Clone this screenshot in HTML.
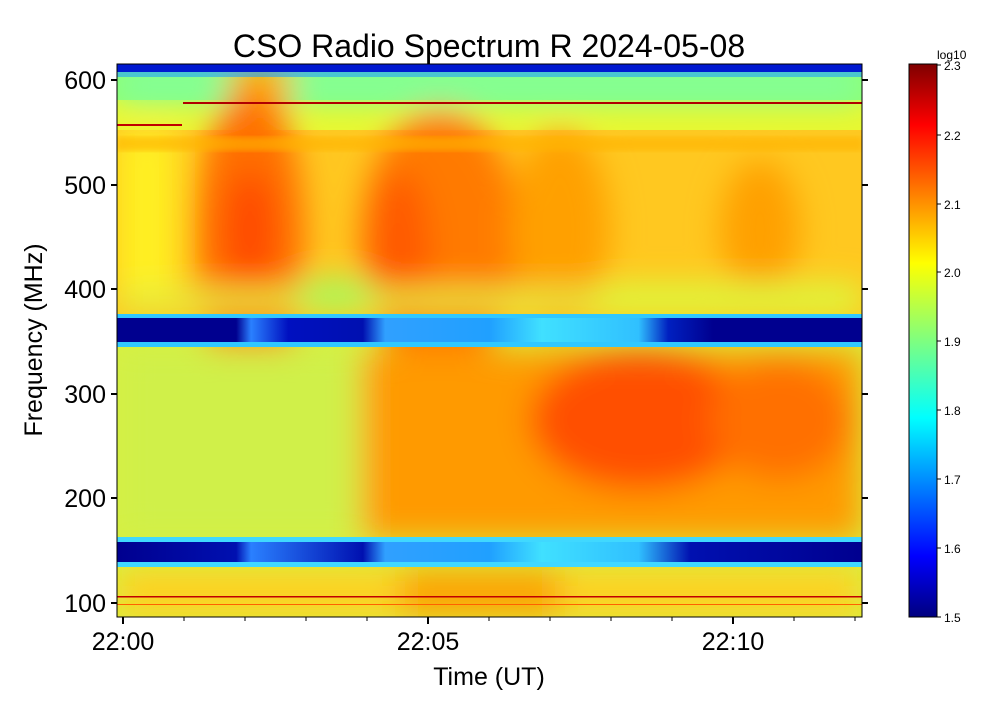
<!DOCTYPE html>
<html><head><style>
body{margin:0;background:#fff;width:1008px;height:696px;overflow:hidden;font-family:"Liberation Sans",sans-serif}
</style></head><body>
<svg width="1008" height="696" viewBox="0 0 1008 696" xmlns="http://www.w3.org/2000/svg" font-family="Liberation Sans, sans-serif">
<defs>
<clipPath id="c"><rect x="117" y="64" width="745" height="553"/></clipPath>
<filter id="b" x="-20%" y="-20%" width="140%" height="140%"><feGaussianBlur stdDeviation="16"/></filter>
<filter id="b2"><feGaussianBlur stdDeviation="3"/></filter>
<linearGradient id="jet" x1="0" y1="1" x2="0" y2="0">
<stop offset="0" stop-color="#00007f"/><stop offset="0.11" stop-color="#0000ff"/>
<stop offset="0.36" stop-color="#00ffff"/><stop offset="0.5" stop-color="#7fff7f"/>
<stop offset="0.64" stop-color="#ffff00"/><stop offset="0.89" stop-color="#ff0000"/>
<stop offset="1" stop-color="#7f0000"/></linearGradient>
<linearGradient id="blueband" x1="0" y1="0" x2="1" y2="0">
<stop offset="0" stop-color="#00008f"/><stop offset="0.16" stop-color="#00008f"/>
<stop offset="0.18" stop-color="#2a80ff"/><stop offset="0.23" stop-color="#0010c0"/>
<stop offset="0.33" stop-color="#0010b0"/><stop offset="0.36" stop-color="#30a0ff"/>
<stop offset="0.5" stop-color="#20a0ff"/><stop offset="0.57" stop-color="#40e0ff"/>
<stop offset="0.7" stop-color="#30c0ff"/><stop offset="0.74" stop-color="#0020c0"/>
<stop offset="0.8" stop-color="#00008f"/><stop offset="1" stop-color="#00008f"/></linearGradient>
<linearGradient id="blueband2" x1="0" y1="0" x2="1" y2="0">
<stop offset="0" stop-color="#00008f"/><stop offset="0.16" stop-color="#0010b0"/>
<stop offset="0.18" stop-color="#2a80ff"/><stop offset="0.33" stop-color="#0010b0"/>
<stop offset="0.36" stop-color="#30a0ff"/><stop offset="0.5" stop-color="#20a0ff"/>
<stop offset="0.57" stop-color="#40e0ff"/><stop offset="0.7" stop-color="#30c0ff"/>
<stop offset="0.77" stop-color="#0010b0"/><stop offset="1" stop-color="#00008f"/></linearGradient>
</defs>
<g clip-path="url(#c)">
<rect x="117" y="64" width="745" height="553" fill="#d8f040"/>
<rect x="117" y="64" width="745" height="50" fill="#90ff70"/>
<rect x="117" y="100" width="745" height="40" fill="#e8f830"/>
<rect x="117" y="130" width="745" height="185" fill="#ffc820"/>
<g filter="url(#b)">
<rect x="117" y="70" width="745" height="30" fill="#80ffa0"/>
<rect x="230" y="60" width="60" height="60" fill="#ffb000"/>
<ellipse cx="250" cy="240" rx="55" ry="150" fill="#ff7000"/>
<ellipse cx="250" cy="230" rx="25" ry="60" fill="#ff4800"/>
<ellipse cx="440" cy="240" rx="80" ry="130" fill="#ff7a00"/>
<ellipse cx="400" cy="250" rx="30" ry="80" fill="#ff5a00"/>
<ellipse cx="560" cy="230" rx="50" ry="100" fill="#ffa000"/>
<ellipse cx="760" cy="230" rx="40" ry="70" fill="#ffa000"/>
<rect x="117" y="130" width="60" height="180" fill="#fff020"/>
<rect x="117" y="290" width="745" height="22" fill="#e0f040"/>
<rect x="300" y="280" width="70" height="30" fill="#a0ff60"/>
<rect x="600" y="285" width="262" height="28" fill="#d8ff40"/>
<rect x="117" y="345" width="245" height="195" fill="#d0f048"/>
<rect x="362" y="350" width="500" height="190" fill="#ff9a00"/>
<ellipse cx="640" cy="420" rx="110" ry="70" fill="#ff5000"/>
<ellipse cx="780" cy="420" rx="70" ry="60" fill="#ff7000"/>
<rect x="117" y="570" width="745" height="47" fill="#ffd020"/>
<rect x="400" y="570" width="160" height="47" fill="#ffa000"/>
</g>
<rect x="117" y="137" width="745" height="14" fill="#ffb400" opacity="0.6" filter="url(#b2)"/>
<rect x="117" y="64" width="745" height="8" fill="#0018d0"/>
<rect x="117" y="72" width="745" height="5" fill="#20a0ff" opacity="0.6"/>
<rect x="117" y="314" width="745" height="6" fill="#30c8ff"/>
<rect x="117" y="318" width="745" height="24" fill="url(#blueband)"/>
<rect x="117" y="342" width="745" height="5" fill="#30c8ff"/>
<rect x="117" y="537" width="745" height="6" fill="#40d8ff"/>
<rect x="117" y="542" width="745" height="20" fill="url(#blueband2)"/>
<rect x="117" y="562" width="745" height="5" fill="#40d8ff"/>
<rect x="183" y="102" width="679" height="2" fill="#b00000"/>
<rect x="117" y="124" width="65" height="2" fill="#c00000"/>
<rect x="117" y="596" width="745" height="1.5" fill="#c00000"/>
<rect x="117" y="604" width="745" height="1" fill="#ff6000"/>
</g>
<rect x="117" y="64" width="745" height="553" fill="none" stroke="#000" stroke-width="1"/>
<g stroke="#000" stroke-width="2">
<line x1="111" y1="80" x2="117" y2="80"/><line x1="111" y1="185" x2="117" y2="185"/>
<line x1="111" y1="289" x2="117" y2="289"/><line x1="111" y1="394" x2="117" y2="394"/>
<line x1="111" y1="498" x2="117" y2="498"/><line x1="111" y1="603" x2="117" y2="603"/>
<line x1="862" y1="80" x2="868" y2="80"/><line x1="862" y1="185" x2="868" y2="185"/>
<line x1="862" y1="289" x2="868" y2="289"/><line x1="862" y1="394" x2="868" y2="394"/>
<line x1="862" y1="498" x2="868" y2="498"/><line x1="862" y1="603" x2="868" y2="603"/>
<line x1="123" y1="617" x2="123" y2="624"/><line x1="428" y1="617" x2="428" y2="624"/><line x1="733" y1="617" x2="733" y2="624"/>
</g>
<g stroke="#000" stroke-width="1">
<line x1="184" y1="617" x2="184" y2="621"/><line x1="245" y1="617" x2="245" y2="621"/><line x1="306" y1="617" x2="306" y2="621"/><line x1="367" y1="617" x2="367" y2="621"/>
<line x1="489" y1="617" x2="489" y2="621"/><line x1="550" y1="617" x2="550" y2="621"/><line x1="611" y1="617" x2="611" y2="621"/><line x1="672" y1="617" x2="672" y2="621"/>
<line x1="794" y1="617" x2="794" y2="621"/><line x1="855" y1="617" x2="855" y2="621"/>
</g>
<g font-size="25" fill="#000" text-anchor="end">
<text x="106" y="89">600</text><text x="106" y="194">500</text><text x="106" y="298">400</text>
<text x="106" y="403">300</text><text x="106" y="507">200</text><text x="106" y="612">100</text>
</g>
<g font-size="25" fill="#000" text-anchor="middle">
<text x="123" y="650">22:00</text><text x="428" y="650">22:05</text><text x="733" y="650">22:10</text>
<text x="489" y="685">Time (UT)</text>
<text x="489" y="57" font-size="32">CSO Radio Spectrum R 2024-05-08</text>
</g>
<text transform="translate(42,340) rotate(-90)" font-size="25" text-anchor="middle">Frequency (MHz)</text>
<rect x="909" y="64" width="28" height="553" fill="url(#jet)" stroke="#000" stroke-width="1"/>
<g stroke="#000" stroke-width="1">
<line x1="937" y1="65" x2="941" y2="65"/><line x1="937" y1="135" x2="941" y2="135"/><line x1="937" y1="204" x2="941" y2="204"/>
<line x1="937" y1="272" x2="941" y2="272"/><line x1="937" y1="341" x2="941" y2="341"/><line x1="937" y1="410" x2="941" y2="410"/>
<line x1="937" y1="479" x2="941" y2="479"/><line x1="937" y1="548" x2="941" y2="548"/><line x1="937" y1="617" x2="941" y2="617"/>
</g>
<g font-size="12" fill="#000">
<text x="944" y="70">2.3</text><text x="944" y="140">2.2</text><text x="944" y="209">2.1</text>
<text x="944" y="277">2.0</text><text x="944" y="346">1.9</text><text x="944" y="415">1.8</text>
<text x="944" y="484">1.7</text><text x="944" y="553">1.6</text><text x="944" y="622">1.5</text>
<text x="937" y="59">log10</text>
</g>
</svg>
</body></html>
